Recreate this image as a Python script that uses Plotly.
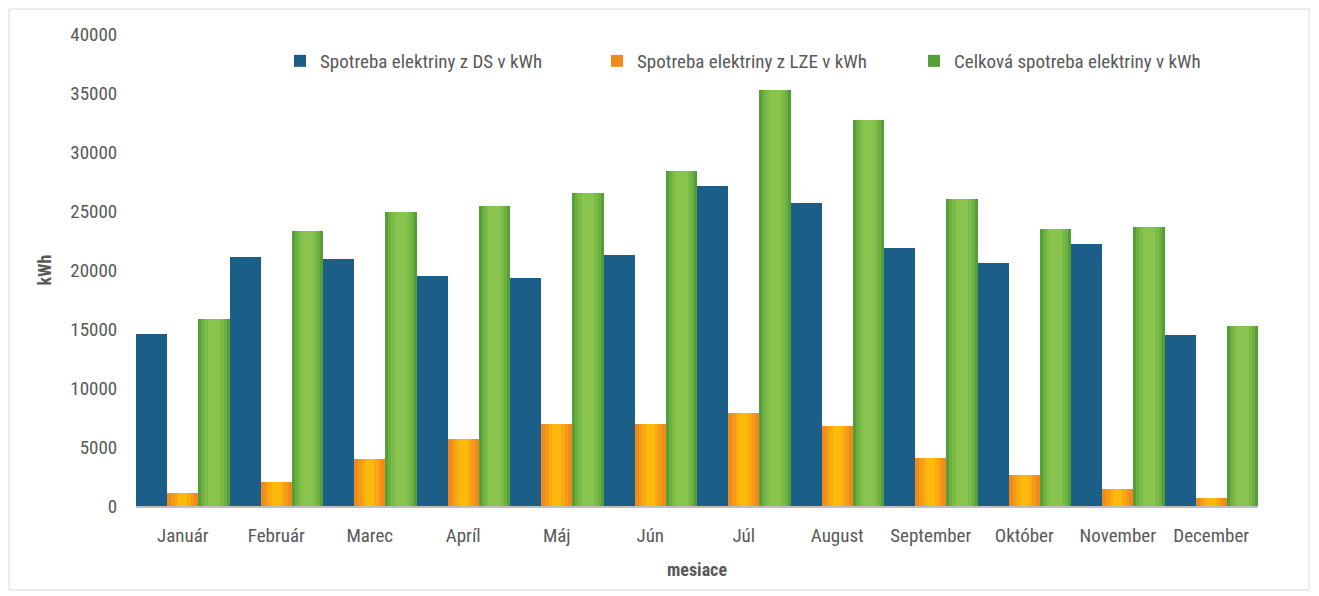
import plotly.graph_objects as go

months = ["Január", "Február", "Marec", "Apríl", "Máj", "Jún", "Júl", "August",
          "September", "Október", "November", "December"]
ds_values = [14600, 21100, 20950, 19500, 19350, 21280, 27150, 25700, 21900, 20600, 22200, 14450]
lze_values = [1100, 2050, 3950, 5700, 6970, 6970, 7900, 6800, 4100, 2650, 1450, 650]
total_values = [15850, 23300, 24900, 25420, 26530, 28400, 35250, 32700, 26030, 23480, 23650, 15250]
series_names = ["Spotreba elektriny z DS v kWh", "Spotreba elektriny z LZE v kWh",
                "Celková spotreba elektriny v kWh"]

FONT = "Liberation Sans Narrow, Roboto Condensed, Arial Narrow, Roboto, sans-serif"
GRAY = "#595959"

W, H = 1303, 584
L, R, T, B = 128, 53, 26, 86
PW, PH = W - L - R, H - T - B

BW = 1 / 3.0
fig = go.Figure()

fig.add_trace(go.Bar(x=months, y=ds_values, name=series_names[0], width=BW, offset=-0.5,
                     marker=dict(color="#1b5e88", line=dict(width=0)), legendrank=1))

lze_layers = [(1.0, "#f08a1c", True), (0.75, "#f59a16", False), (0.5, "#f8aa10", False), (0.28, "#fbb90b", False)]
for frac, col, leg in lze_layers:
    w = BW * frac
    fig.add_trace(go.Bar(x=months, y=lze_values, name=series_names[1], width=w, offset=-w / 2,
                         marker=dict(color=col, line=dict(width=0)), showlegend=leg,
                         legendrank=2, hoverinfo="skip" if not leg else None))

tot_layers = [(1.0, "#55a036", True), (0.82, "#6cb041", False), (0.62, "#7bbb48", False), (0.4, "#89c54e", False)]
for frac, col, leg in tot_layers:
    w = BW * frac
    fig.add_trace(go.Bar(x=months, y=total_values, name=series_names[2], width=w, offset=BW - w / 2,
                         marker=dict(color=col, line=dict(width=0)), showlegend=leg,
                         legendrank=3, hoverinfo="skip" if not leg else None))

fig.add_shape(type="rect", xref="paper", yref="paper",
              x0=(1 - L) / PW, x1=(W - 2 - L) / PW,
              y0=(2 - B) / PH, y1=(H - 1 - B) / PH,
              line=dict(color="#d9d9d9", width=1), layer="below")

fig.update_layout(
    width=W, height=H,
    margin=dict(l=L, r=R, t=T, b=B, autoexpand=False),
    barmode="overlay", bargap=0,
    plot_bgcolor="white", paper_bgcolor="white",
    font=dict(family=FONT, color=GRAY, size=18),
    showlegend=True,
    legend=dict(orientation="h", x=(272 - L) / PW, xanchor="left",
                y=(H - 34 - B) / PH, yanchor="top",
                entrywidth=272, entrywidthmode="pixels",
                font=dict(family=FONT, size=19, color=GRAY),
                itemsizing="constant", traceorder="normal",
                bgcolor="rgba(0,0,0,0)"),
    xaxis=dict(type="category", categoryorder="array", categoryarray=months,
               range=[-0.5, 11.5], showgrid=False, showline=True, linecolor="#bfbfbf",
               linewidth=2, ticks="outside", ticklen=11, tickcolor="rgba(0,0,0,0)",
               tickfont=dict(family=FONT, size=19, color=GRAY),
               title=dict(text="<b>mesiace</b>", font=dict(family=FONT, size=18, color=GRAY),
                          standoff=18)),
    yaxis=dict(range=[0, 40000], dtick=5000, tickformat="d", showgrid=False, showline=False,
               zeroline=False, ticks="outside", ticklen=14, tickcolor="rgba(0,0,0,0)",
               tickfont=dict(family=FONT, size=19, color=GRAY),
               title=dict(text="<b>kWh</b>", font=dict(family=FONT, size=18, color=GRAY),
                          standoff=13)),
)

fig.write_html("out.html")
